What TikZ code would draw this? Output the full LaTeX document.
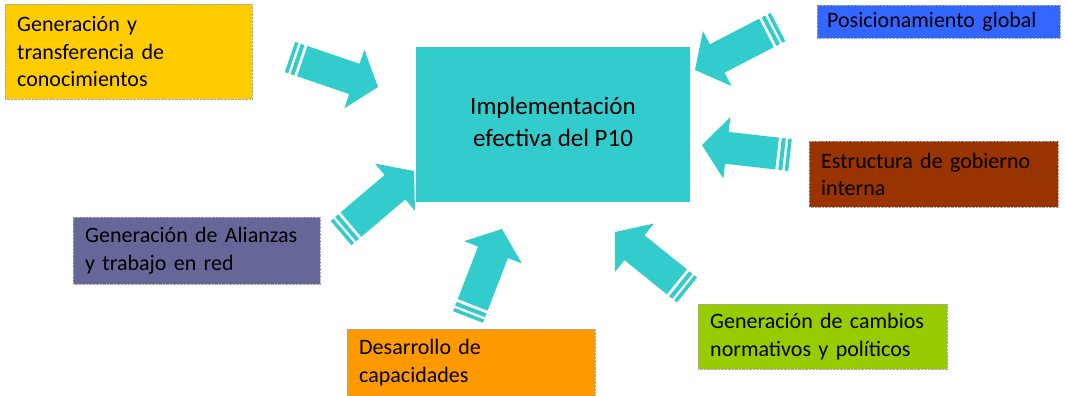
\documentclass[tikz,border=0pt]{standalone}
\usepackage{fontspec}
\setmainfont{Carlito}
\usepackage{xcolor}
\usetikzlibrary{calc}
\definecolor{turq}{HTML}{33CCCC}
\definecolor{gold}{HTML}{FFCC00}
\definecolor{royal}{HTML}{3366FF}
\definecolor{rust}{HTML}{993300}
\definecolor{slate}{HTML}{666699}
\definecolor{amber}{HTML}{FF9900}
\definecolor{lime}{HTML}{99CC00}
\tikzset{
    factor/.style={
        draw=black!35, densely dotted, line width=0.4pt, anchor=north west,
        inner xsep=12pt, inner ysep=0pt, align=left,
        font=\fontsize{22}{27.5}\selectfont,
    },
    arrowfill/.style={fill=turq},
}
% striped block arrow from a tail coordinate to a tip coordinate
\newcommand{\stripearrow}[2]{%
    \fill[arrowfill] ($(#1)!16pt!90:(#2)$) -- ($(#1)!16pt!-90:(#2)$)
        -- ($(#1)!3.5pt!(#2)!16pt!-90:(#2)$) -- ($(#1)!3.5pt!(#2)!16pt!90:(#2)$) -- cycle;
    \fill[arrowfill] ($(#1)!6pt!(#2)!16pt!90:(#2)$) -- ($(#1)!6pt!(#2)!16pt!-90:(#2)$)
        -- ($(#1)!10pt!(#2)!16pt!-90:(#2)$) -- ($(#1)!10pt!(#2)!16pt!90:(#2)$) -- cycle;
    \fill[arrowfill] ($(#1)!13pt!(#2)!16pt!90:(#2)$) -- ($(#1)!13pt!(#2)!16pt!-90:(#2)$)
        -- ($(#2)!25pt!(#1)!16pt!90:(#1)$) -- ($(#2)!25pt!(#1)!31pt!90:(#1)$)
        -- (#2) -- ($(#2)!25pt!(#1)!31pt!-90:(#1)$) -- ($(#2)!25pt!(#1)!16pt!-90:(#1)$) -- cycle;
}

\begin{document}
\begin{tikzpicture}[x=1pt, y=-1pt]
    \useasboundingbox (0,0) rectangle (1065,396);

    \node[factor, fill=gold, text width=223pt, minimum height=95pt] (gen) at (5,4)
        {Generación y\\transferencia de\\conocimientos};
    \node[factor, fill=royal, inner xsep=10pt, text width=223pt, minimum height=33pt] (pos) at (817,5)
        {Posicionamiento global};
    \node[factor, fill=rust, text width=225pt, minimum height=66pt] (estr) at (809,141)
        {Estructura de gobierno\\interna};
    \node[factor, fill=slate, text width=223pt, minimum height=67pt] (ali) at (73,217)
        {Generación de Alianzas\\y trabajo en red};
    \node[factor, fill=amber, text width=224pt, minimum height=67pt] (des) at (347,329)
        {Desarrollo de\\capacidades};
    \node[factor, fill=lime, text width=225pt, minimum height=65pt] (camb) at (698,304)
        {Generación de cambios\\normativos y políticos};

    \coordinate (t1) at (290,57);  \coordinate (h1) at (378,87);
    \coordinate (t2) at (341,233); \coordinate (h2) at (414,171);
    \coordinate (t3) at (778,27);  \coordinate (h3) at (695,70);
    \coordinate (t4) at (790,155); \coordinate (h4) at (702,145);
    \coordinate (t5) at (468,317); \coordinate (h5) at (502,229);
    \coordinate (t6) at (687,290); \coordinate (h6) at (615,232);
    \stripearrow{t1}{h1}
    \stripearrow{t2}{h2}
    \stripearrow{t3}{h3}
    \stripearrow{t4}{h4}
    \stripearrow{t5}{h5}
    \stripearrow{t6}{h6}

    \node[fill=turq, minimum width=274pt, minimum height=155pt,
        font=\fontsize{25}{32}\selectfont] (impl) at (553,124.5)
        {\raisebox{6pt}{\begin{tabular}{@{}c@{}}Implementación\\efectiva del P10\end{tabular}}};
\end{tikzpicture}
\end{document}
